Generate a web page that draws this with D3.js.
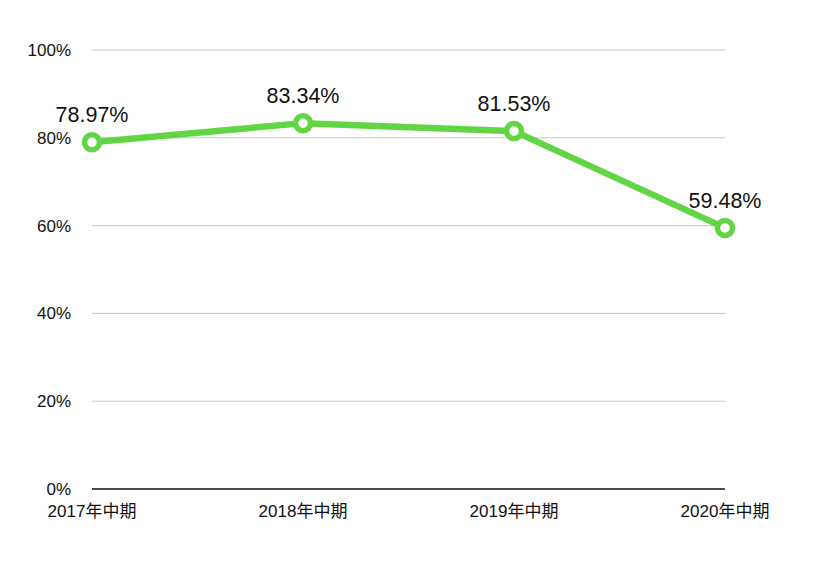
<!DOCTYPE html>
<html><head><meta charset="utf-8">
<script src="https://cdn.jsdelivr.net/npm/d3@7"></script>
<style>html,body{margin:0;padding:0;background:#fff;}svg{display:block;}</style>
</head><body>
<script>
const categories = ["2017年中期","2018年中期","2019年中期","2020年中期"];
const values = [78.97, 83.34, 81.53, 59.48];
const yTicks = [0,20,40,60,80,100];

const W=814,H=562;
const svg=d3.select("body").append("svg").attr("width",W).attr("height",H);
const font="'Liberation Sans', 'Noto Sans CJK SC', Arial, sans-serif";
const x=d3.scalePoint().domain(categories).range([92,725]);
const y=d3.scaleLinear().domain([0,100]).range([489,50]);

svg.append("g").selectAll("line").data(yTicks.filter(d=>d>0)).join("line")
  .attr("x1",92).attr("x2",725).attr("y1",d=>y(d)).attr("y2",d=>y(d))
  .attr("stroke","#c8c8c8").attr("stroke-width",1);
svg.append("line").attr("x1",92).attr("x2",725).attr("y1",y(0)).attr("y2",y(0))
  .attr("stroke","#111").attr("stroke-width",1.5);

svg.append("g").selectAll("text").data(yTicks).join("text")
  .attr("x",71).attr("y",d=>y(d)).attr("dy","0.35em").attr("text-anchor","end")
  .attr("font-family",font).attr("font-size",17).attr("fill","#111")
  .text(d=>d+"%");

svg.append("g").selectAll("text").data(categories).join("text")
  .attr("x",d=>x(d)).attr("y",511).attr("dy","0.35em").attr("text-anchor","middle")
  .attr("font-family",font).attr("font-size",17).attr("fill","#111")
  .text(d=>d);

const green="#62d544";
const pts=categories.map((c,i)=>({c,v:values[i]}));
svg.append("path").datum(pts)
  .attr("d",d3.line().x(d=>x(d.c)).y(d=>y(d.v)))
  .attr("fill","none").attr("stroke",green).attr("stroke-width",6.5).attr("stroke-linejoin","round");
svg.append("g").selectAll("circle").data(pts).join("circle")
  .attr("cx",d=>x(d.c)).attr("cy",d=>y(d.v)).attr("r",7.5)
  .attr("fill","#fff").attr("stroke",green).attr("stroke-width",5.5);
svg.append("g").selectAll("text").data(pts).join("text")
  .attr("x",d=>x(d.c)).attr("y",d=>y(d.v)-20).attr("text-anchor","middle")
  .attr("font-family",font).attr("font-size",21.5).attr("fill","#111")
  .text(d=>d.v.toFixed(2)+"%");
</script>
</body></html>
